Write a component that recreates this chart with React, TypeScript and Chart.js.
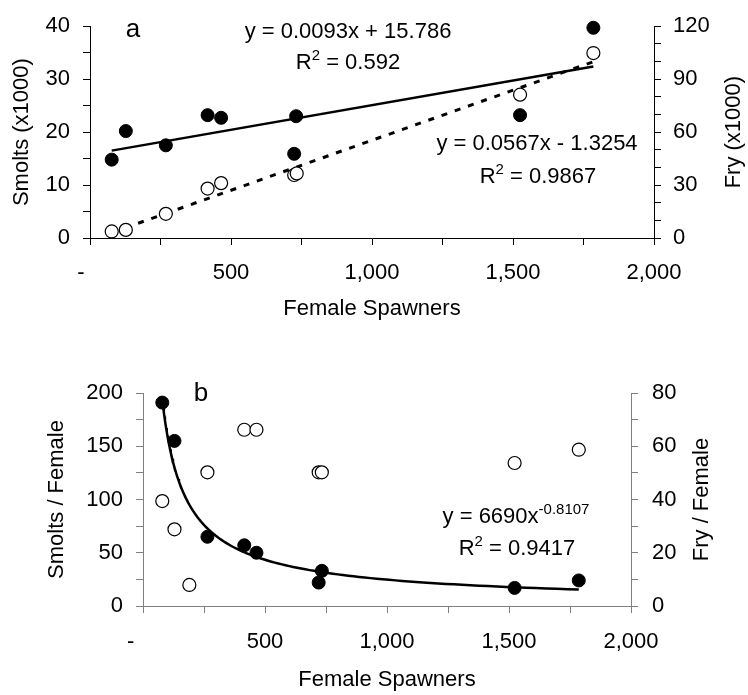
import { useEffect, useRef } from "react";
import { Chart, registerables } from "chart.js";

Chart.register(...registerables);

const FONT = "'Liberation Sans', Arial, sans-serif";
const TICK_SIZE = 22;
const TITLE_SIZE = 22;
const EQ_SIZE = 22;

// Panel a: smolts and fry (thousands) against female spawners
const spawnersSmoltsA = [77, 127, 269, 417, 465, 731, 724, 1525, 1785];
const smoltsThousands = [14.8, 20.2, 17.5, 23.2, 22.7, 23.0, 15.9, 23.2, 39.7];
const spawnersFryA = [77, 127, 269, 417, 465, 724, 733, 1525, 1785];
const fryThousands = [3.7, 4.6, 13.7, 28.0, 31.1, 35.7, 36.6, 81.2, 104.8];

// Fitted trendlines for panel a
const smoltSlope = 0.0093;
const smoltIntercept = 15.786;
const smoltR2 = "0.592";
const frySlope = 0.0567;
const fryIntercept = -1.3254;
const fryR2 = "0.9867";

// Panel b: smolts and fry per female
const spawnersSmoltsB = [79, 129, 264, 415, 465, 733, 720, 1523, 1786];
const smoltsPerFemale = [191, 155, 65, 57, 50, 33, 22, 17, 24];
const spawnersFryB = [79, 129, 190, 264, 415, 465, 720, 733, 1523, 1786];
const fryPerFemale = [39.4, 28.8, 7.9, 50.2, 66.2, 66.2, 50.2, 50.2, 53.7, 58.7];

// Power fit for smolts per female
const powerCoef = 6690;
const powerExp = -0.8107;
const powerR2 = "0.9417";

const xLabel = (v: number, zeroLabel: string) => {
  if (v % 500 !== 0) return "";
  if (v === 0) return zeroLabel;
  return v.toLocaleString("en-US");
};

const pts = (xs: number[], ys: number[]) => xs.map((x, i) => ({ x, y: ys[i] }));

function linearLine(xs: number[], slope: number, intercept: number) {
  const lo = Math.min(...xs);
  const hi = Math.max(...xs);
  return [lo, hi].map((x) => ({ x, y: slope * x + intercept }));
}

function powerCurve(xs: number[], coef: number, exp: number) {
  const lo = Math.min(...xs);
  const hi = Math.max(...xs);
  const out: { x: number; y: number }[] = [];
  const n = 120;
  for (let i = 0; i <= n; i++) {
    const x = lo * Math.pow(hi / lo, i / n);
    out.push({ x, y: coef * Math.pow(x, exp) });
  }
  return out;
}

type Part = { text: string; sup?: boolean };

function drawRich(ctx: CanvasRenderingContext2D, parts: Part[], cx: number, cy: number, size: number) {
  const supSize = Math.round(size * 0.66);
  const widths = parts.map((p) => {
    ctx.font = `${p.sup ? supSize : size}px ${FONT}`;
    return ctx.measureText(p.text).width;
  });
  const total = widths.reduce((a, b) => a + b, 0);
  let x = cx - total / 2;
  const base = cy + size * 0.36;
  ctx.textAlign = "left";
  ctx.textBaseline = "alphabetic";
  ctx.fillStyle = "#000";
  parts.forEach((p, i) => {
    ctx.font = `${p.sup ? supSize : size}px ${FONT}`;
    ctx.fillText(p.text, x, p.sup ? base - size * 0.4 : base);
    x += widths[i];
  });
}

function drawRotated(ctx: CanvasRenderingContext2D, text: string, cx: number, cy: number, size: number) {
  ctx.save();
  ctx.translate(cx, cy);
  ctx.rotate(-Math.PI / 2);
  ctx.font = `${size}px ${FONT}`;
  ctx.fillStyle = "#000";
  ctx.textAlign = "center";
  ctx.textBaseline = "middle";
  ctx.fillText(text, 0, 0);
  ctx.restore();
}

function drawCentered(ctx: CanvasRenderingContext2D, text: string, cx: number, cy: number, size: number) {
  ctx.font = `${size}px ${FONT}`;
  ctx.fillStyle = "#000";
  ctx.textAlign = "center";
  ctx.textBaseline = "middle";
  ctx.fillText(text, cx, cy);
}

function axis(color: string, pad: number) {
  return {
    border: { display: true, color, width: 1 },
    grid: {
      display: true,
      drawOnChartArea: false,
      drawTicks: true,
      tickLength: 7,
      tickColor: color,
      tickWidth: 1,
    },
    ticks: {
      color: "#000",
      padding: pad,
      autoSkip: false,
      maxRotation: 0,
      minRotation: 0,
      font: { family: FONT, size: TICK_SIZE },
    },
  };
}

function scale(
  color: string,
  pad: number,
  position: string,
  max: number,
  step: number,
  labelEvery: number,
  fit: (s: any) => void,
  zeroLabel?: string
) {
  const base = axis(color, pad);
  return {
    type: "linear",
    position,
    min: 0,
    max,
    ...base,
    ticks: {
      ...base.ticks,
      stepSize: step,
      callback: (v: any) => {
        const n = Number(v);
        if (zeroLabel !== undefined) return xLabel(n, zeroLabel);
        return n % labelEvery === 0 ? String(n) : "";
      },
    },
    afterFit: fit,
  };
}

const filled = {
  pointRadius: 6.5,
  pointBackgroundColor: "#000",
  pointBorderColor: "#000",
  pointBorderWidth: 1,
  showLine: false,
};

const hollow = {
  pointRadius: 6.5,
  pointBackgroundColor: "#fff",
  pointBorderColor: "#000",
  pointBorderWidth: 1.2,
  showLine: false,
};

function buildA(): any {
  const textPlugin = {
    id: "panelAText",
    afterDraw(chart: Chart) {
      const ctx = chart.ctx;
      const a = chart.chartArea;
      const midY = (a.top + a.bottom) / 2;
      ctx.save();
      drawCentered(ctx, "a", 133, 30, 26);
      drawRich(ctx, [{ text: `y = ${smoltSlope}x + ${smoltIntercept}` }], 348, 30, EQ_SIZE);
      drawRich(ctx, [{ text: "R" }, { text: "2", sup: true }, { text: ` = ${smoltR2}` }], 348, 61, EQ_SIZE);
      drawRich(ctx, [{ text: `y = ${frySlope}x - ${Math.abs(fryIntercept)}` }], 537, 142, EQ_SIZE);
      drawRich(ctx, [{ text: "R" }, { text: "2", sup: true }, { text: ` = ${fryR2}` }], 538, 175, EQ_SIZE);
      drawRotated(ctx, "Smolts (x1000)", 22, midY, TITLE_SIZE);
      drawRotated(ctx, "Fry (x1000)", 734, midY, TITLE_SIZE);
      drawCentered(ctx, "Female Spawners", (a.left + a.right) / 2, 309, TITLE_SIZE);
      ctx.restore();
    },
  };
  return {
    type: "scatter",
    data: {
      datasets: [
        { label: "Smolts", data: pts(spawnersSmoltsA, smoltsThousands), yAxisID: "y", ...filled, order: 1 },
        { label: "Fry", data: pts(spawnersFryA, fryThousands), yAxisID: "y2", ...hollow, order: 2 },
        {
          label: "Smolts trend",
          data: linearLine(spawnersSmoltsA, smoltSlope, smoltIntercept),
          yAxisID: "y",
          showLine: true,
          pointRadius: 0,
          borderColor: "#000",
          borderWidth: 2.5,
          order: 3,
        },
        {
          label: "Fry trend",
          data: linearLine(spawnersFryA, frySlope, fryIntercept),
          yAxisID: "y2",
          showLine: true,
          pointRadius: 0,
          borderColor: "#000",
          borderWidth: 3,
          borderDash: [6, 8],
          order: 4,
        },
      ],
    },
    options: {
      responsive: false,
      animation: false,
      events: [],
      layout: { padding: { top: 20, left: 0, right: 0, bottom: 0 } },
      plugins: { legend: { display: false }, tooltip: { enabled: false } },
      elements: { line: { tension: 0 } },
      datasets: { scatter: { clip: false } },
      scales: {
        x: scale("#000", 15, "bottom", 2000, 250, 500, (s) => { s.height = 92; }, "-   "),
        y: scale("#000", 13, "left", 40, 5, 10, (s) => { s.width = 90; }),
        y2: scale("#000", 12, "right", 120, 10, 30, (s) => { s.width = 94; }),
      },
    },
    plugins: [textPlugin],
  };
}

function buildB(): any {
  const gray = "#808080";
  const textPlugin = {
    id: "panelBText",
    afterDraw(chart: Chart) {
      const ctx = chart.ctx;
      const a = chart.chartArea;
      const midY = (a.top + a.bottom) / 2;
      ctx.save();
      drawCentered(ctx, "b", 201, 64, 26);
      drawRich(ctx, [{ text: `y = ${powerCoef}x` }, { text: `${powerExp}`, sup: true }], 516, 185, EQ_SIZE);
      drawRich(ctx, [{ text: "R" }, { text: "2", sup: true }, { text: ` = ${powerR2}` }], 517, 217, EQ_SIZE);
      drawRotated(ctx, "Smolts / Female", 57, midY, TITLE_SIZE);
      drawRotated(ctx, "Fry / Female", 702, midY, TITLE_SIZE);
      drawCentered(ctx, "Female Spawners", (a.left + a.right) / 2, 350, TITLE_SIZE);
      ctx.restore();
    },
  };
  return {
    type: "scatter",
    data: {
      datasets: [
        { label: "Smolts / Female", data: pts(spawnersSmoltsB, smoltsPerFemale), yAxisID: "y", ...filled, order: 1 },
        { label: "Fry / Female", data: pts(spawnersFryB, fryPerFemale), yAxisID: "y2", ...hollow, order: 2 },
        {
          label: "Power trend",
          data: powerCurve(spawnersSmoltsB, powerCoef, powerExp),
          yAxisID: "y",
          showLine: true,
          pointRadius: 0,
          borderColor: "#000",
          borderWidth: 2.5,
          order: 3,
        },
      ],
    },
    options: {
      responsive: false,
      animation: false,
      events: [],
      layout: { padding: { top: 63, left: 0, right: 0, bottom: 0 } },
      plugins: { legend: { display: false }, tooltip: { enabled: false } },
      elements: { line: { tension: 0 } },
      datasets: { scatter: { clip: false } },
      scales: {
        x: scale(gray, 16, "bottom", 2000, 250, 500, (s) => { s.height = 89; }, "-    "),
        y: scale(gray, 13, "left", 200, 25, 50, (s) => { s.width = 143; }),
        y2: scale(gray, 14, "right", 80, 10, 20, (s) => { s.width = 117; }),
      },
    },
    plugins: [textPlugin],
  };
}

export default function App() {
  const refA = useRef<HTMLCanvasElement>(null);
  const refB = useRef<HTMLCanvasElement>(null);

  useEffect(() => {
    const chartA = new Chart(refA.current!, buildA());
    const chartB = new Chart(refB.current!, buildB());
    return () => {
      chartA.destroy();
      chartB.destroy();
    };
  }, []);

  return (
    <div style={{ position: "fixed", left: 0, top: 0, width: 748, height: 695, background: "#fff" }}>
      <canvas ref={refA} width={748} height={330} style={{ position: "absolute", left: 0, top: 0 }} />
      <canvas ref={refB} width={748} height={365} style={{ position: "absolute", left: 0, top: 330 }} />
    </div>
  );
}
